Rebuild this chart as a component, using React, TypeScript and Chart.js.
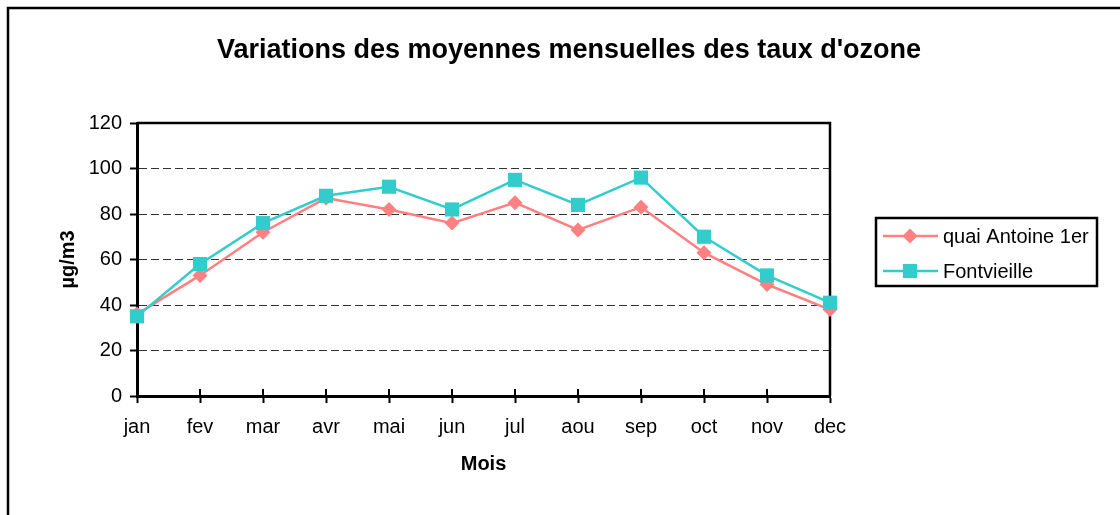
import { useEffect, useRef } from "react";
import { Chart, registerables } from "chart.js";

Chart.register(...registerables);

const months = ["jan", "fev", "mar", "avr", "mai", "jun", "jul", "aou", "sep", "oct", "nov", "dec"];
const quaiAntoine = [36, 53, 72, 87, 82, 76, 85, 73, 83, 63, 49, 38];
const fontvieille = [35, 58, 76, 88, 92, 82, 95, 84, 96, 70, 53, 41];
const seriesNames = ["quai Antoine 1er", "Fontvieille"];
const seriesColors = ["#FF8080", "#33CCCC"];
const yMin = 0;
const yMax = 120;
const yStep = 20;
const titleText = "Variations des moyennes mensuelles des taux d'ozone";
const xTitle = "Mois";
const yTitle = "µg/m3";

const FONT = "'Liberation Sans', Arial, Helvetica, sans-serif";

const decor = {
  id: "decor",
  beforeDatasetsDraw(chart: any) {
    const { ctx, chartArea: a, scales } = chart;
    ctx.save();
    ctx.strokeStyle = "#000";
    ctx.lineWidth = 2.5;
    ctx.beginPath();
    ctx.moveTo(a.left, a.top);
    ctx.lineTo(a.right, a.top);
    ctx.lineTo(a.right, a.bottom);
    ctx.stroke();
    ctx.lineWidth = 2;
    const xs = scales.x;
    xs.ticks.forEach((_: any, i: number) => {
      const px = xs.getPixelForTick(i);
      ctx.beginPath();
      ctx.moveTo(px, a.bottom);
      ctx.lineTo(px, a.bottom - 7);
      ctx.stroke();
    });
    ctx.restore();
  },
  afterDraw(chart: any) {
    const { ctx } = chart;
    ctx.save();
    // outer frame (top & left visible)
    ctx.strokeStyle = "#000";
    ctx.lineWidth = 2.5;
    ctx.beginPath();
    ctx.moveTo(8, 520);
    ctx.lineTo(8, 8);
    ctx.lineTo(1125, 8);
    ctx.stroke();
    // title
    ctx.fillStyle = "#000";
    ctx.font = `bold 27px ${FONT}`;
    ctx.textAlign = "center";
    ctx.textBaseline = "middle";
    ctx.fillText(titleText, 569, 51);
    // legend
    ctx.lineWidth = 2.5;
    ctx.strokeRect(876, 218, 221, 68);
    ctx.font = `20px ${FONT}`;
    ctx.textAlign = "left";
    chart.data.datasets.forEach((ds: any, i: number) => {
      const y = 236 + i * 35;
      ctx.strokeStyle = ds.borderColor;
      ctx.fillStyle = ds.backgroundColor;
      ctx.lineWidth = 2.5;
      ctx.beginPath();
      ctx.moveTo(883, y);
      ctx.lineTo(938, y);
      ctx.stroke();
      const cx = 910;
      if (ds.pointStyle === "rectRot") {
        const r = ds.pointRadius;
        ctx.beginPath();
        ctx.moveTo(cx - r, y);
        ctx.lineTo(cx, y - r);
        ctx.lineTo(cx + r, y);
        ctx.lineTo(cx, y + r);
        ctx.closePath();
        ctx.fill();
      } else {
        const s = ds.pointRadius * Math.SQRT1_2;
        ctx.fillRect(cx - s, y - s, 2 * s, 2 * s);
      }
      ctx.fillStyle = "#000";
      ctx.fillText(ds.label, 943, y + 1);
    });
    ctx.restore();
  },
};

export default function App() {
  const ref = useRef<HTMLCanvasElement | null>(null);
  useEffect(() => {
    if (!ref.current) return;
    const chart = new Chart(ref.current, {
      type: "line",
      data: {
        labels: months,
        datasets: [
          {
            label: seriesNames[0],
            data: quaiAntoine,
            borderColor: seriesColors[0],
            backgroundColor: seriesColors[0],
            borderWidth: 2.5,
            pointStyle: "rectRot",
            pointRadius: 7.5,
            pointHoverRadius: 7.5,
            pointBorderWidth: 0,
            tension: 0,
            clip: false as any,
            order: 1,
          },
          {
            label: seriesNames[1],
            data: fontvieille,
            borderColor: seriesColors[1],
            backgroundColor: seriesColors[1],
            borderWidth: 2.5,
            pointStyle: "rect",
            pointRadius: 10,
            pointHoverRadius: 10,
            pointBorderWidth: 0,
            tension: 0,
            clip: false as any,
            order: 0,
          },
        ],
      },
      options: {
        animation: false,
        responsive: false,
        devicePixelRatio: 1,
        events: [],
        layout: { padding: { left: 0, top: 123, right: 290, bottom: 0 } },
        plugins: {
          legend: { display: false },
          title: { display: false },
          tooltip: { enabled: false },
        },
        scales: {
          x: {
            type: "category",
            offset: false,
            afterFit: (s: any) => {
              s.height = 119;
            },
            grid: {
              display: true,
              drawOnChartArea: false,
              drawTicks: true,
              tickLength: 7,
              tickColor: "#000",
              tickWidth: 2,
            },
            border: { display: true, color: "#000", width: 3 },
            ticks: {
              color: "#000",
              font: { family: FONT, size: 20 },
              padding: 12,
              maxRotation: 0,
              autoSkip: false,
            },
            title: {
              display: true,
              text: xTitle,
              color: "#000",
              font: { family: FONT, size: 20, weight: "bold" },
              padding: { top: 0, bottom: 39 },
            },
          },
          y: {
            type: "linear",
            min: yMin,
            max: yMax,
            afterFit: (s: any) => {
              s.width = 137;
            },
            grid: {
              display: true,
              drawOnChartArea: true,
              color: "#333",
              lineWidth: 1,
              tickLength: 7,
              tickColor: "#000",
              tickWidth: 2,
              tickBorderDash: [],
            },
            border: { display: true, color: "#000", width: 3, dash: [8, 4] },
            ticks: {
              stepSize: yStep,
              color: "#000",
              font: { family: FONT, size: 20 },
              padding: 8,
            },
            title: {
              display: true,
              text: yTitle,
              color: "#000",
              font: { family: FONT, size: 20, weight: "bold" },
              padding: { top: 56, bottom: 0 },
            },
          },
        },
      },
      plugins: [decor],
    });
    return () => chart.destroy();
  }, []);
  return (
    <canvas
      ref={ref}
      width={1120}
      height={515}
      style={{ position: "absolute", left: 0, top: 0, width: 1120, height: 515, background: "#fff" }}
    />
  );
}
